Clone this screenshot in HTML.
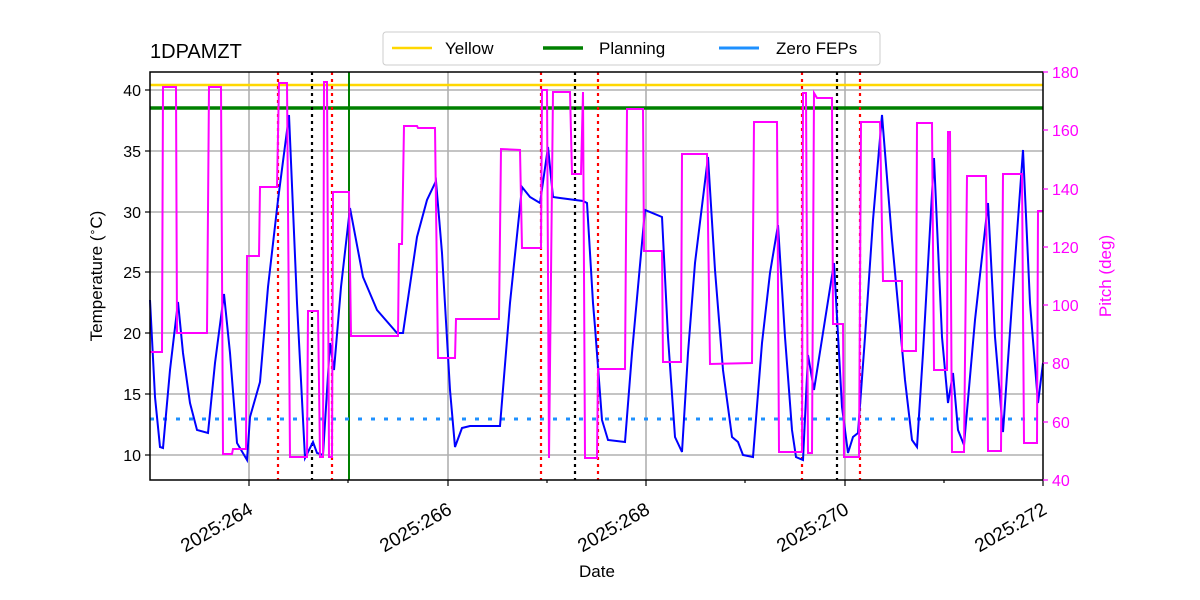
<!DOCTYPE html>
<html><head><meta charset="utf-8"><style>body{margin:0;background:#fff}svg{display:block}</style></head><body>
<svg width="1200" height="600" viewBox="0 0 1200 600" font-family="Liberation Sans, DejaVu Sans, sans-serif">
<g stroke="#b0b0b0" stroke-width="1.6">
<line x1="249" y1="72" x2="249" y2="480"/><line x1="448" y1="72" x2="448" y2="480"/><line x1="646" y1="72" x2="646" y2="480"/><line x1="845" y1="72" x2="845" y2="480"/>
<line x1="150" y1="455" x2="1043" y2="455"/><line x1="150" y1="394" x2="1043" y2="394"/><line x1="150" y1="333" x2="1043" y2="333"/><line x1="150" y1="272" x2="1043" y2="272"/><line x1="150" y1="212" x2="1043" y2="212"/><line x1="150" y1="151" x2="1043" y2="151"/><line x1="150" y1="90" x2="1043" y2="90"/>
</g>
<line x1="150" y1="85" x2="1043" y2="85" stroke="#ffd700" stroke-width="2.5"/>
<line x1="150" y1="108" x2="1043" y2="108" stroke="#008000" stroke-width="3.5"/>
<line x1="349" y1="72" x2="349" y2="480" stroke="#008000" stroke-width="2"/>
<line x1="150" y1="419" x2="1043" y2="419" stroke="#1e90ff" stroke-width="3" stroke-dasharray="4 9"/>
<g stroke="#ff0000" stroke-width="2.2" stroke-dasharray="3 4">
<line x1="278" y1="72" x2="278" y2="480"/><line x1="332" y1="72" x2="332" y2="480"/><line x1="541" y1="72" x2="541" y2="480"/><line x1="598" y1="72" x2="598" y2="480"/><line x1="802" y1="72" x2="802" y2="480"/><line x1="860" y1="72" x2="860" y2="480"/>
</g>
<g stroke="#000" stroke-width="2.2" stroke-dasharray="3 4">
<line x1="312" y1="72" x2="312" y2="480"/><line x1="575" y1="72" x2="575" y2="480"/><line x1="837" y1="72" x2="837" y2="480"/>
</g>
<polyline fill="none" stroke="#0000ff" stroke-width="2" points="150,300 155,397 160,447 163,448 170,370 178,302 183,353 190,403 197,430 208,433 215,363 224,294 230,353 237,443 247,460 250,417 260,382 268,287 278,200 289,115 297,303 305,458 313,442 317,453 323,455 330,343 334,370 341,287 350,208 363,277 377,310 397,333 403,333 417,237 427,200 436,181 442,253 450,390 455,447 462,428 470,426 500,426 510,303 522,187 530,197 540,203 548,147 553,197 560,198 583,201 587,203 593,303 595,327 602,420 608,440 625,442 632,353 645,210 662,217 668,337 675,437 682,452 688,353 695,263 708,157 715,270 723,370 732,437 738,442 743,455 753,457 762,343 770,273 778,225 785,337 792,430 796,457 803,460 808,355 814,390 825,320 834,263 842,407 848,453 853,437 858,433 865,337 873,220 882,115 892,240 905,380 912,440 917,447 923,353 934,158 942,337 948,403 953,373 958,430 964,445 975,320 988,203 995,337 1003,432 1012,303 1023,150 1030,303 1038,403 1043,363"/>
<polyline fill="none" stroke="#ff00ff" stroke-width="2" points="150,352 162,352 163,87 176,87 177,333 207,333 209,87 221,87 223,454 232,454 233,449 246,449 247,256 259,256 260,187 277,187 279,83 287,83 290,457 307,457 308,311 318,311 320,457 323,457 324,82 327,82 329,457 332,457 333,192 349,192 351,336 398,336 399,244 402,244 404,126 417,126 418,128 435,128 438,358 455,358 456,319 499,319 501,149 520,150 522,248 541,248 542,90 547,90 549,458 553,92 570,92 572,174 581,174 583,92 585,458 597,458 598,369 625,369 627,109 643,109 644,251 662,251 663,362 681,362 682,154 707,154 710,364 752,363 754,122 777,122 779,452 802,452 803,93 806,93 808,453 812,453 814,93 817,98 832,98 833,324 843,324 844,457 859,457 861,122 880,122 883,281 902,281 902,351 916,351 917,123 932,123 934,370 947,370 948,132 950,132 952,452 964,452 967,176 986,176 988,451 1001,451 1003,174 1022,174 1024,443 1037,443 1038,211 1043,211"/>
<rect x="150" y="72" width="893" height="408" fill="none" stroke="#000" stroke-width="1.5"/>
<g stroke="#000" stroke-width="1.2">
<line x1="145" y1="455" x2="150" y2="455"/><line x1="145" y1="394" x2="150" y2="394"/><line x1="145" y1="333" x2="150" y2="333"/><line x1="145" y1="272" x2="150" y2="272"/><line x1="145" y1="212" x2="150" y2="212"/><line x1="145" y1="151" x2="150" y2="151"/><line x1="145" y1="90" x2="150" y2="90"/>
<line x1="249" y1="480" x2="249" y2="486"/><line x1="448" y1="480" x2="448" y2="486"/><line x1="646" y1="480" x2="646" y2="486"/><line x1="845" y1="480" x2="845" y2="486"/><line x1="1043" y1="480" x2="1043" y2="486"/>
<line x1="348" y1="480" x2="348" y2="483"/><line x1="547" y1="480" x2="547" y2="483"/><line x1="745" y1="480" x2="745" y2="483"/><line x1="944" y1="480" x2="944" y2="483"/>
</g>
<g stroke="#ff00ff" stroke-width="1.2">
<line x1="1043" y1="480" x2="1048" y2="480"/><line x1="1043" y1="422" x2="1048" y2="422"/><line x1="1043" y1="363" x2="1048" y2="363"/><line x1="1043" y1="305" x2="1048" y2="305"/><line x1="1043" y1="247" x2="1048" y2="247"/><line x1="1043" y1="189" x2="1048" y2="189"/><line x1="1043" y1="130" x2="1048" y2="130"/><line x1="1043" y1="72" x2="1048" y2="72"/>
</g>
<g font-size="16" text-anchor="end" fill="#000">
<text x="141" y="461">10</text><text x="141" y="400">15</text><text x="141" y="339">20</text><text x="141" y="278">25</text><text x="141" y="218">30</text><text x="141" y="157">35</text><text x="141" y="96">40</text>
</g>
<g font-size="16" fill="#ff00ff">
<text x="1052" y="486">40</text><text x="1052" y="428">60</text><text x="1052" y="369">80</text><text x="1052" y="311">100</text><text x="1052" y="253">120</text><text x="1052" y="195">140</text><text x="1052" y="136">160</text><text x="1052" y="78">180</text>
</g>
<g font-size="19" text-anchor="end" fill="#000">
<text transform="translate(254,513) rotate(-30)">2025:264</text>
<text transform="translate(453,513) rotate(-30)">2025:266</text>
<text transform="translate(651,513) rotate(-30)">2025:268</text>
<text transform="translate(850,513) rotate(-30)">2025:270</text>
<text transform="translate(1048,513) rotate(-30)">2025:272</text>
</g>
<text x="597" y="577" font-size="17" text-anchor="middle">Date</text>
<text transform="translate(102,276) rotate(-90)" font-size="17" text-anchor="middle">Temperature (<tspan baseline-shift="super" font-size="11">∘</tspan>C)</text>
<text transform="translate(1111,276) rotate(-90)" font-size="17" text-anchor="middle" fill="#ff00ff">Pitch (deg)</text>
<text x="150" y="58" font-size="20">1DPAMZT</text>
<rect x="383" y="32" width="497" height="33" rx="3" fill="#fff" stroke="#ccc"/>
<line x1="392" y1="48" x2="432" y2="48" stroke="#ffd700" stroke-width="2.5"/><text x="445" y="54" font-size="17">Yellow</text>
<line x1="543" y1="48" x2="583" y2="48" stroke="#008000" stroke-width="3.5"/><text x="599" y="54" font-size="17">Planning</text>
<line x1="719" y1="48" x2="759" y2="48" stroke="#1e90ff" stroke-width="3"/><text x="776" y="54" font-size="17">Zero FEPs</text>
</svg>
</body></html>
